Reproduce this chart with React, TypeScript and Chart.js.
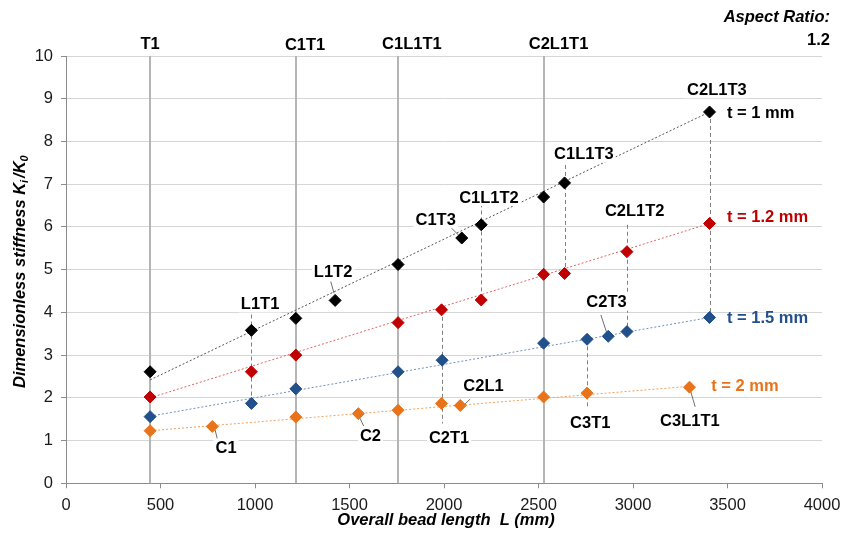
import React, { useEffect, useRef } from "react";
import { Chart, registerables } from "chart.js";

Chart.register(...registerables);

const FONT = '"Liberation Sans", Arial, Helvetica, sans-serif';

// Axis ranges / ticks
const xMin = 0;
const xMax = 4000;
const xStep = 500;
const yMin = 0;
const yMax = 10;
const yStep = 1;

// Series
const seriesNames = ["t = 1 mm", "t = 1.2 mm", "t = 1.5 mm", "t = 2 mm"];
const seriesColors = ["#000000", "#c00000", "#21508a", "#e8731a"];
const trendColors = ["#555555", "#e06666", "#6f8fbf", "#f2a05a"];

const lengthT10 = [445, 981, 1216, 1424, 1757, 2094, 2197, 2527, 2638, 3405];
const stiffT10 = [2.61, 3.58, 3.86, 4.28, 5.12, 5.74, 6.05, 6.7, 7.03, 8.69];

const lengthT12 = [445, 981, 1216, 1757, 1987, 2197, 2527, 2638, 2968, 3405];
const stiffT12 = [2.02, 2.61, 3.0, 3.76, 4.06, 4.29, 4.89, 4.91, 5.42, 6.08];

const lengthT15 = [445, 981, 1216, 1757, 1990, 2527, 2757, 2869, 2968, 3405];
const stiffT15 = [1.56, 1.87, 2.21, 2.61, 2.88, 3.28, 3.37, 3.44, 3.55, 3.88];

const lengthT20 = [445, 774, 1216, 1547, 1757, 1987, 2086, 2527, 2757, 3299];
const stiffT20 = [1.23, 1.33, 1.55, 1.63, 1.71, 1.87, 1.82, 2.02, 2.11, 2.25];

// Trend lines (end points)
const trendStartX = [445, 445, 445, 445];
const trendEndX = [3405, 3405, 3405, 3299];
const trendStartY = [2.42, 2.0, 1.57, 1.23];
const trendEndY = [8.69, 6.08, 3.88, 2.27];

// Series labels
const seriesLabelX = [3497, 3497, 3497, 3414];
const seriesLabelY = [8.67, 6.24, 3.88, 2.3];

// Vertical reference configurations
const refNames = ["T1", "C1T1", "C1L1T1", "C2L1T1"];
const refX = [445, 1216, 1757, 2527];
const refLabelX = [445, 1265, 1830, 2606];
const refLabelY = [10.29, 10.27, 10.3, 10.29];

// Point labels
const pointLabelText = ["C2L1T3", "C1L1T3", "C1L1T2", "C1T3", "C2L1T2", "L1T2", "L1T1", "C2T3", "C2L1", "C1", "C2", "C2T1", "C3T1", "C3L1T1"];
const pointLabelX = [3444, 2740, 2238, 1956, 3009, 1413, 1027, 2860, 2209, 847, 1611, 2027, 2774, 3301];
const pointLabelY = [9.22, 7.72, 6.7, 6.18, 6.38, 4.95, 4.21, 4.25, 2.3, 0.84, 1.13, 1.08, 1.42, 1.48];

// Dashed connectors
const connX = [981, 1987, 2197, 2638, 2968, 3405, 2757];
const connTop = [3.95, 4.06, 6.55, 7.45, 6.05, 8.69, 3.37];
const connBottom = [1.87, 1.4, 4.29, 4.91, 3.55, 3.88, 1.73];

// Leader lines
const leadX1 = [2033, 1401, 789, 1556, 2830, 2138, 3306];
const leadY1 = [6.0, 4.72, 1.25, 1.52, 3.94, 1.97, 2.14];
const leadX2 = [2077, 1418, 801, 1577, 2862, 2103, 3329];
const leadY2 = [5.81, 4.45, 1.03, 1.32, 3.51, 1.82, 1.79];

const xTitle = "Overall bead length  L (mm)";
const yTitleMain = "Dimensionless stiffness K";
const yTitleSub1 = "i";
const yTitleMid = "/K";
const yTitleSub2 = "0";
const cornerTitle = "Aspect Ratio:";
const cornerValue = "1.2";

const allLengths = [lengthT10, lengthT12, lengthT15, lengthT20];
const allStiff = [stiffT10, stiffT12, stiffT15, stiffT20];

const overlayPlugin = {
  id: "overlay",
  beforeDatasetsDraw(chart: any) {
    const { ctx } = chart;
    const x = chart.scales.x;
    const y = chart.scales.y;
    ctx.save();
    // vertical reference lines
    ctx.strokeStyle = "#b5b5b5";
    ctx.lineWidth = 2;
    refX.forEach((v) => {
      const px = Math.round(x.getPixelForValue(v));
      ctx.beginPath();
      ctx.moveTo(px, y.getPixelForValue(yMax));
      ctx.lineTo(px, y.getPixelForValue(yMin));
      ctx.stroke();
    });
    // dashed connectors
    ctx.strokeStyle = "#808080";
    ctx.lineWidth = 1;
    ctx.setLineDash([4, 3]);
    connX.forEach((v, i) => {
      const px = Math.round(x.getPixelForValue(v)) + 0.5;
      ctx.beginPath();
      ctx.moveTo(px, y.getPixelForValue(connTop[i]));
      ctx.lineTo(px, y.getPixelForValue(connBottom[i]));
      ctx.stroke();
    });
    ctx.setLineDash([]);
    // leader lines
    ctx.strokeStyle = "#6e6e6e";
    leadX1.forEach((v, i) => {
      ctx.beginPath();
      ctx.moveTo(x.getPixelForValue(v), y.getPixelForValue(leadY1[i]));
      ctx.lineTo(x.getPixelForValue(leadX2[i]), y.getPixelForValue(leadY2[i]));
      ctx.stroke();
    });
    ctx.restore();
  },
  afterDatasetsDraw(chart: any) {
    const { ctx } = chart;
    const x = chart.scales.x;
    const y = chart.scales.y;
    ctx.save();
    ctx.font = `bold 16.5px ${FONT}`;
    ctx.textBaseline = "middle";
    ctx.textAlign = "center";
    pointLabelText.forEach((t, i) => {
      const px = x.getPixelForValue(pointLabelX[i]);
      const py = y.getPixelForValue(pointLabelY[i]);
      const w = ctx.measureText(t).width;
      ctx.fillStyle = "#ffffff";
      ctx.fillRect(px - w / 2 - 2, py - 9, w + 4, 18);
      ctx.fillStyle = "#000000";
      ctx.fillText(t, px, py + 1);
    });
    ctx.textAlign = "left";
    seriesNames.forEach((t, i) => {
      const px = x.getPixelForValue(seriesLabelX[i]);
      const py = y.getPixelForValue(seriesLabelY[i]);
      ctx.fillStyle = seriesColors[i];
      ctx.fillText(t, px, py + 1);
    });
    ctx.restore();
  },
  afterDraw(chart: any) {
    const { ctx, chartArea } = chart;
    const x = chart.scales.x;
    const y = chart.scales.y;
    ctx.save();
    ctx.textBaseline = "middle";
    // reference labels
    ctx.font = `bold 16.5px ${FONT}`;
    ctx.textAlign = "center";
    ctx.fillStyle = "#000000";
    refNames.forEach((t, i) => {
      ctx.fillText(t, x.getPixelForValue(refLabelX[i]), y.getPixelForValue(refLabelY[i]) + 1);
    });
    // corner
    ctx.textAlign = "right";
    ctx.font = `italic bold 16.5px ${FONT}`;
    ctx.fillText(cornerTitle, 830, 17);
    ctx.font = `bold 16.5px ${FONT}`;
    ctx.fillText(cornerValue, 830, 40);
    // x title
    ctx.textAlign = "center";
    ctx.font = `italic bold 16.5px ${FONT}`;
    ctx.fillText(xTitle, (chartArea.left + chartArea.right) / 2 + 2, 520);
    // y title
    const big = `italic bold 16.5px ${FONT}`;
    const small = `italic bold 11px ${FONT}`;
    ctx.font = big;
    const w1 = ctx.measureText(yTitleMain).width;
    const w3 = ctx.measureText(yTitleMid).width;
    ctx.font = small;
    const w2 = ctx.measureText(yTitleSub1).width + 2;
    const w4 = ctx.measureText(yTitleSub2).width;
    const total = w1 + w2 + w3 + w4;
    ctx.translate(19, (chartArea.top + chartArea.bottom) / 2 + 2);
    ctx.rotate(-Math.PI / 2);
    ctx.textAlign = "left";
    ctx.textBaseline = "alphabetic";
    let cx = -total / 2;
    ctx.font = big;
    ctx.fillText(yTitleMain, cx, 6);
    cx += w1;
    ctx.font = small;
    ctx.fillText(yTitleSub1, cx, 9);
    cx += w2;
    ctx.font = big;
    ctx.fillText(yTitleMid, cx, 6);
    cx += w3;
    ctx.font = small;
    ctx.fillText(yTitleSub2, cx, 9);
    ctx.restore();
  },
};

export default function App() {
  const ref = useRef<HTMLCanvasElement | null>(null);
  useEffect(() => {
    document.body.style.margin = "0";
    const canvas = ref.current;
    if (!canvas) return;
    const pointSets = seriesNames.map((name, i) => ({
      label: name,
      data: allLengths[i].map((v, j) => ({ x: v, y: allStiff[i][j] })),
      showLine: false,
      pointStyle: "rectRot",
      pointRadius: 6,
      pointBorderWidth: 1,
      backgroundColor: seriesColors[i],
      borderColor: seriesColors[i],
    }));
    const trendSets = seriesNames.map((name, i) => ({
      label: name + " trend",
      data: [
        { x: trendStartX[i], y: trendStartY[i] },
        { x: trendEndX[i], y: trendEndY[i] },
      ],
      showLine: true,
      pointRadius: 0,
      borderColor: trendColors[i],
      borderWidth: 1,
      borderDash: [2, 2],
      fill: false,
    }));
    const chart = new Chart(canvas, {
      type: "scatter",
      data: { datasets: [...pointSets, ...trendSets] as any },
      options: {
        responsive: false,
        animation: false,
        devicePixelRatio: 1,
        layout: { padding: { top: 56, right: 34, left: 0, bottom: 0 } },
        plugins: { legend: { display: false }, tooltip: { enabled: false } },
        scales: {
          x: {
            type: "linear",
            min: xMin,
            max: xMax,
            afterFit: (s: any) => {
              s.height = 53.7;
            },
            ticks: {
              stepSize: xStep,
              color: "#1a1a1a",
              font: { family: FONT, size: 16.5 },
              padding: 7,
              maxRotation: 0,
              callback: (v: any) => String(v),
            },
            grid: {
              drawOnChartArea: false,
              drawTicks: true,
              tickLength: 5,
              tickColor: "#8c8c8c",
              color: "#8c8c8c",
            },
            border: { color: "#8c8c8c", width: 1 },
          },
          y: {
            type: "linear",
            min: yMin,
            max: yMax,
            afterFit: (s: any) => {
              s.width = 66;
            },
            ticks: {
              stepSize: yStep,
              color: "#1a1a1a",
              font: { family: FONT, size: 16.5 },
              padding: 8,
              callback: (v: any) => String(v),
            },
            grid: {
              color: "#d6d6d6",
              lineWidth: 1,
              tickLength: 5,
              tickColor: "#8c8c8c",
            },
            border: { color: "#8c8c8c", width: 1 },
          },
        },
      },
      plugins: [overlayPlugin],
    } as any);
    return () => chart.destroy();
  }, []);
  return (
    <div style={{ width: 856, height: 537, background: "#fff" }}>
      <canvas ref={ref} width={856} height={537} style={{ display: "block" }} />
    </div>
  );
}
